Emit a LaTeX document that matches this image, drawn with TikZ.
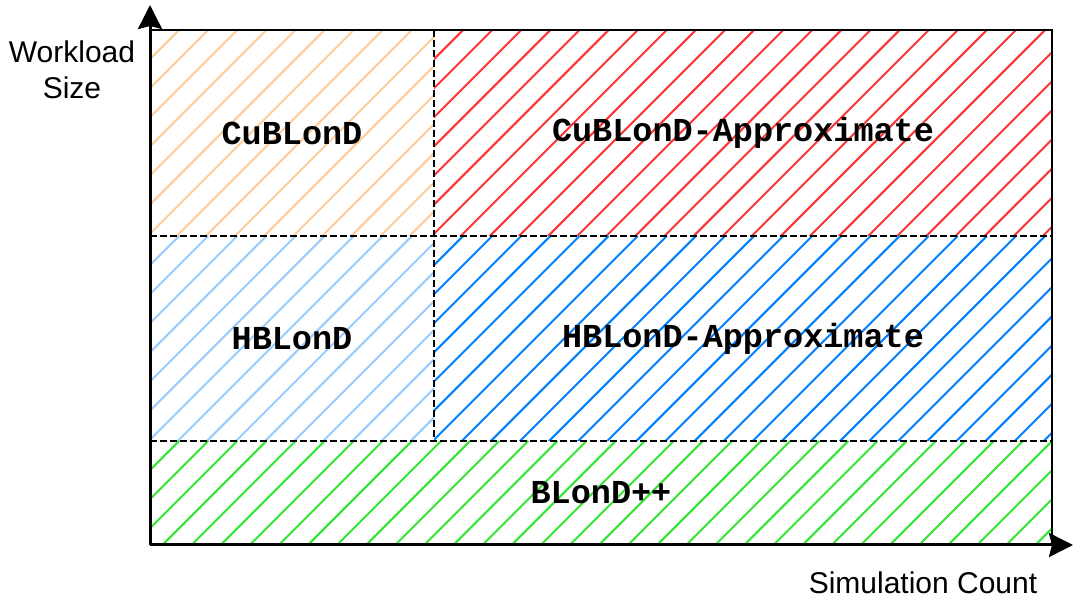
\documentclass[tikz,border=0pt]{standalone}
\usepackage{fontspec}
\setmainfont{Liberation Sans}
\setmonofont{Liberation Mono}
\usetikzlibrary{arrows.meta,positioning,calc}
\definecolor{hOrange}{RGB}{255,204,153}
\definecolor{hRed}{RGB}{255,51,51}
\definecolor{hLBlue}{RGB}{153,204,255}
\definecolor{hBlue}{RGB}{0,127,255}
\definecolor{hGreen}{RGB}{51,230,51}

\begin{document}
\begin{tikzpicture}[x=1pt, y=1pt,
    % hatched cell: diagonal lines started from the cell's top-left corner
    cell/.style={inner sep=0pt, outer sep=0pt,
                 font=\fontsize{33.5}{36}\selectfont\ttfamily\bfseries,
                 path picture={
                   \foreach \k in {0,...,40}
                     \draw[#1, line width=2pt]
                       ($(path picture bounding box.north west)+(\k*29.1,0)$)
                       -- ++(-1000,-1000);
                 }},
    axis/.style={line width=3pt, -{Stealth[length=24pt, width=24pt, inset=3pt]}},
    split/.style={line width=2pt, dash pattern=on 7pt off 3pt},
    axlbl/.style={font=\fontsize{30}{36}\selectfont, align=center}]

    \useasboundingbox (0,0) rectangle (1073,599);

    % cells
    \node[cell=hOrange, minimum width=284pt, minimum height=206pt] (cub) at (292,466) {CuBLonD};
    \node[cell=hRed, minimum width=618pt, minimum height=206pt, right=0pt of cub] (cubapx) {CuBLonD-Approximate};
    \node[cell=hLBlue, minimum width=284pt, minimum height=205pt, below=0pt of cub] (hb) {HBLonD};
    \node[cell=hBlue, minimum width=618pt, minimum height=205pt, right=0pt of hb] (hbapx) {HBLonD-Approximate};
    \node[cell=hGreen, minimum width=902pt, minimum height=104pt, anchor=north west] (blond) at (hb.south west) {BLonD++};

    % frame and splits
    \draw[line width=1.3pt] (cub.north west) -- (cubapx.north east) -- (blond.south east);
    \draw[split] (cub.north east) -- (hb.south east);
    \draw[split] (cub.south west) -- (cubapx.south east);
    \draw[split] (hb.south west) -- (hbapx.south east);

    % axes
    \coordinate (O) at (blond.south west);
    \coordinate (ytip) at (150,594);
    \coordinate (xtip) at (1073,54);
    \draw[axis] (O) -- (ytip);
    \draw[axis] (O) -- (xtip);

    \node[axlbl] (ylbl) at (72,529) {Workload\\Size};
    \node[axlbl] (xlbl) at (923,16) {Simulation Count};
\end{tikzpicture}
\end{document}
